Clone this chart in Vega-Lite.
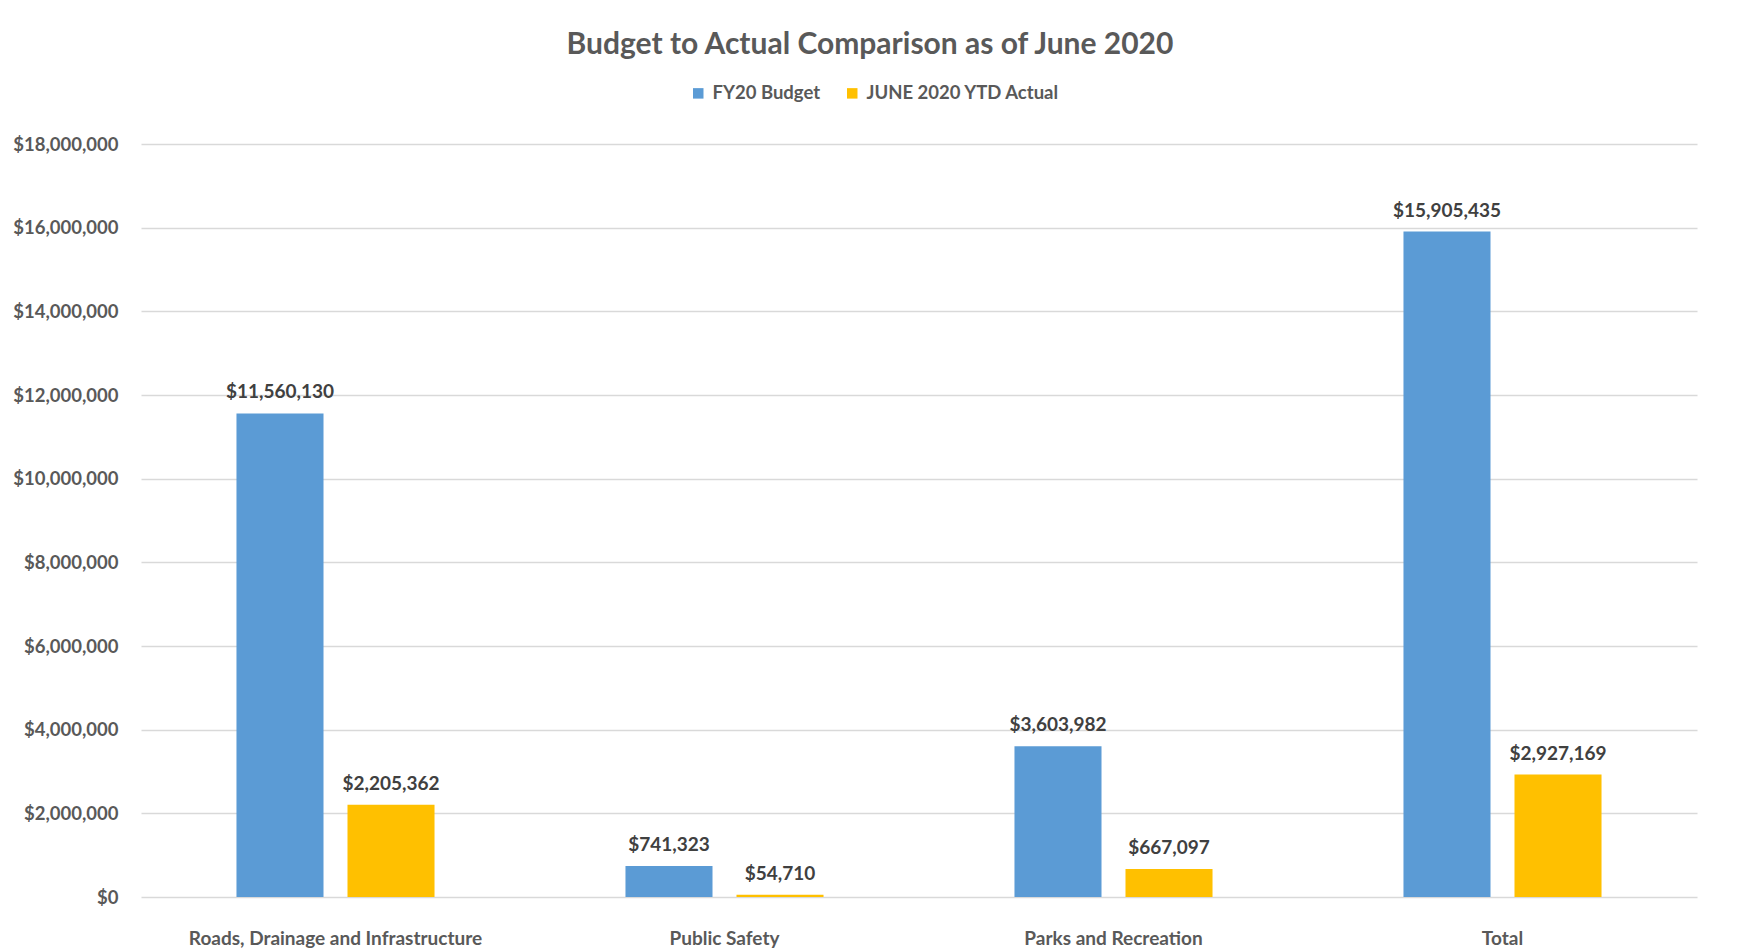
{
  "$schema": "https://vega.github.io/schema/vega-lite/v6.json",
  "width": 1556,
  "height": 753,
  "autosize": "none",
  "padding": {"left": 141, "top": 144, "right": 42, "bottom": 55},
  "background": "white",
  "title": {
    "text": "Budget to Actual Comparison as of June 2020",
    "font": "Lato",
    "fontSize": 30,
    "fontWeight": "bold",
    "color": "#595959",
    "anchor": "middle",
    "dx": -49,
    "offset": 24
  },
  "data": {
    "values": [
      {"category": "Roads, Drainage and Infrastructure", "series": "FY20 Budget", "value": 11560130},
      {"category": "Roads, Drainage and Infrastructure", "series": "JUNE 2020  YTD Actual", "value": 2205362},
      {"category": "Public Safety", "series": "FY20 Budget", "value": 741323},
      {"category": "Public Safety", "series": "JUNE 2020  YTD Actual", "value": 54710},
      {"category": "Parks and Recreation", "series": "FY20 Budget", "value": 3603982},
      {"category": "Parks and Recreation", "series": "JUNE 2020  YTD Actual", "value": 667097},
      {"category": "Total", "series": "FY20 Budget", "value": 15905435},
      {"category": "Total", "series": "JUNE 2020  YTD Actual", "value": 2927169}
    ]
  },
  "encoding": {
    "x": {
      "field": "category",
      "type": "nominal",
      "sort": ["Roads, Drainage and Infrastructure", "Public Safety", "Parks and Recreation", "Total"],
      "scale": {"paddingInner": 0, "paddingOuter": 0},
      "axis": {
        "title": null,
        "labelAngle": 0,
        "domain": false,
        "ticks": false,
        "labelPadding": 32,
        "labelLimit": 500,
        "labelFont": "Lato",
        "labelFontSize": 19,
        "labelFontWeight": "bold",
        "labelColor": "#595959",
        "labelBaseline": "top"
      }
    },
    "xOffset": {
      "field": "series",
      "type": "nominal",
      "sort": ["FY20 Budget", "JUNE 2020  YTD Actual"],
      "scale": {"paddingInner": 0.216, "paddingOuter": 0.86}
    },
    "y": {
      "field": "value",
      "type": "quantitative",
      "scale": {"domain": [0, 18000000], "nice": false},
      "axis": {
        "title": null,
        "values": [0, 2000000, 4000000, 6000000, 8000000, 10000000, 12000000, 14000000, 16000000, 18000000],
        "format": "$,.0f",
        "domain": false,
        "ticks": false,
        "labelPadding": 23,
        "labelFont": "Lato",
        "labelFontSize": 18.5,
        "labelFontWeight": "bold",
        "labelColor": "#595959",
        "gridColor": "#D9D9D9",
        "gridWidth": 1.5
      }
    }
  },
  "layer": [
    {
      "mark": {"type": "bar"},
      "encoding": {
        "color": {
          "field": "series",
          "type": "nominal",
          "sort": ["FY20 Budget", "JUNE 2020  YTD Actual"],
          "scale": {"domain": ["FY20 Budget", "JUNE 2020  YTD Actual"], "range": ["#5B9BD5", "#FFC000"]},
          "legend": {
            "orient": "none",
            "legendX": 548,
            "legendY": -60,
            "direction": "horizontal",
            "title": null,
            "symbolType": "square",
            "symbolSize": 110,
            "symbolStrokeWidth": 0,
            "labelFont": "Lato",
            "labelFontSize": 18.5,
            "labelFontWeight": "bold",
            "labelColor": "#595959",
            "labelLimit": 500,
            "labelOffset": 5,
            "columnPadding": 22
          }
        }
      }
    },
    {
      "mark": {
        "type": "text",
        "baseline": "bottom",
        "dy": -11,
        "font": "Lato",
        "fontSize": 19,
        "fontWeight": "bold",
        "color": "#404040"
      },
      "encoding": {
        "text": {"field": "value", "type": "quantitative", "format": "$,.0f"}
      }
    }
  ],
  "config": {
    "view": {"stroke": null}
  }
}
